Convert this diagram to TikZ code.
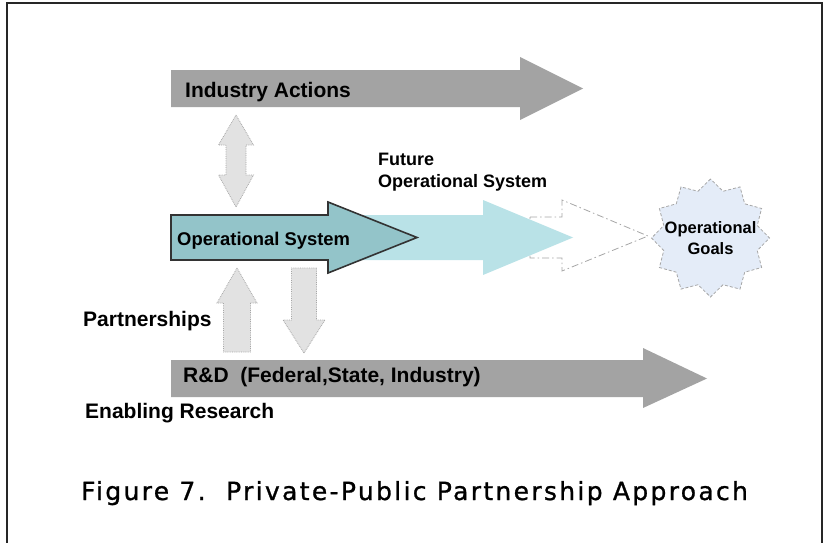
\documentclass[tikz,border=0pt]{standalone}
\usepackage{fontspec}
\setmainfont{Liberation Sans}
\newfontfamily\capfont[LetterSpace=9.3, FakeBold=1]{DejaVu Sans}
\usetikzlibrary{shapes.geometric}
\definecolor{bandgray}{HTML}{A3A3A3}
\definecolor{linkgray}{HTML}{E2E2E2}
\definecolor{opteal}{HTML}{93C4C9}
\definecolor{futteal}{HTML}{B9E2E7}
\definecolor{goalblue}{HTML}{E4ECF8}
\tikzset{band/.style={fill=bandgray, draw=none},
  link/.style={fill=linkgray, draw=gray!70, densely dotted, line width=0.8pt},
  opnow/.style={fill=opteal, draw=black!80, line width=1.6pt, line join=miter},
  opnext/.style={fill=futteal, draw=none},
  ghost/.style={fill=white, draw=gray!70, dash pattern=on 7pt off 3pt on 1.5pt off 3pt, line width=0.8pt},
  goalstar/.style={star, star points=12, star point ratio=1.22, minimum size=118pt, inner sep=0pt,
    fill=goalblue, draw=gray!70, densely dashed, line width=0.8pt},
  lbl/.style={inner sep=0pt, anchor=base west, font=\bfseries\fontsize{21}{25}\selectfont},
  sublbl/.style={inner sep=0pt, font=\bfseries\fontsize{18}{21.5}\selectfont}}

\begin{document}
\begin{tikzpicture}[x=1pt, y=-1pt]
    \useasboundingbox (0,0) rectangle (824,543);
    \draw[line width=1.6pt, black!85] (7,543) -- (7,3) -- (822,3) -- (822,543);

    % the three bands
    \draw[band] (171,70) -- (520,70) -- (520,57) -- (583,88.5) -- (520,120) -- (520,107) -- (171,107) -- cycle;
    \draw[band] (171,360) -- (643,360) -- (643,348) -- (707,378.5) -- (643,408) -- (643,397) -- (171,397) -- cycle;

    % where the system goes
    \draw[ghost] (530,217) -- (562,217) -- (562,200) -- (648,236) -- (562,271) -- (562,258) -- (530,258) -- cycle;
    \draw[opnext] (300,215) -- (483,215) -- (483,200) -- (573,237.5) -- (483,275) -- (483,260) -- (300,260) -- cycle;
    \draw[opnow] (171,215) -- (328,215) -- (328,202) -- (417,237.5) -- (328,273) -- (328,260) -- (171,260) -- cycle;

    % links between the bands
    \draw[link] (236,115) -- (253.5,145) -- (246,145) -- (246,175) -- (253.5,175) -- (236,207)
        -- (218.5,175) -- (226,175) -- (226,145) -- (218.5,145) -- cycle;
    \draw[link] (237,268) -- (257,303) -- (250.5,303) -- (250.5,352) -- (223.5,352) -- (223.5,303) -- (217,303) -- cycle;
    \draw[link] (304,353) -- (325,320) -- (316.5,320) -- (316.5,268) -- (291.5,268) -- (291.5,320) -- (283,320) -- cycle;

    \node (goals) [goalstar] at (710.5,238) {};

    \node (ind) [lbl] at (185,97) {Industry Actions};
    \node (opsys) [lbl, font=\bfseries\fontsize{18.4}{22}\selectfont] at (177,245) {Operational System};
    \node (fut) [sublbl, anchor=base west, align=left] at (378,187) {Future\\Operational System};
    \node (goaltxt) [sublbl, anchor=base, align=center, font=\bfseries\fontsize{16.5}{21}\selectfont] at (goals.center |- 0,254) {Operational\\Goals};
    \node (part) [lbl] at (83,326) {Partnerships};
    \node (rnd) [lbl] at (183,382) {R\&D\ \ (Federal,State, Industry)};
    \node (enab) [lbl] at (85,418) {Enabling Research};

    \node (cap) [inner sep=0pt, anchor=base west, font=\capfont\fontsize{25}{29}\selectfont] at (81,500)
        {Figure 7.\ \ Private-Public Partnership Approach};
\end{tikzpicture}
\end{document}
